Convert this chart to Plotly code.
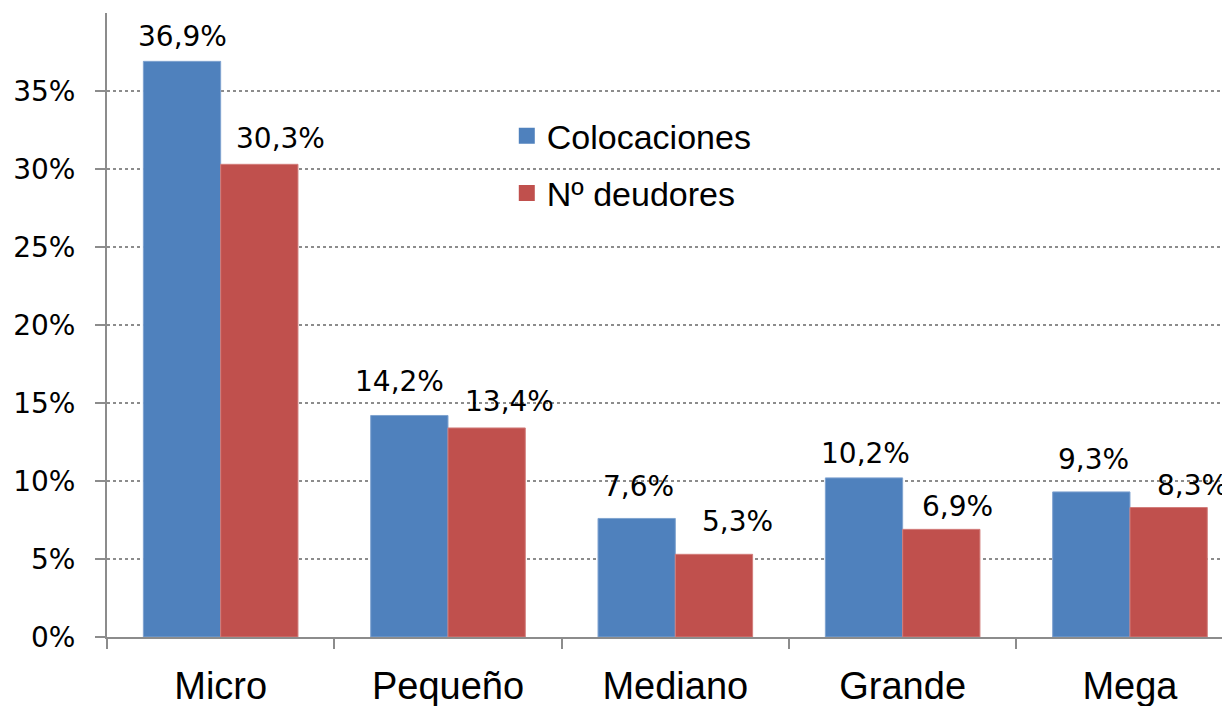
import plotly.graph_objects as go

categories = ["Micro", "Pequeño", "Mediano", "Grande", "Mega"]
colocaciones = [0.369, 0.142, 0.076, 0.102, 0.093]
deudores = [0.303, 0.134, 0.053, 0.069, 0.083]
series_names = ["Colocaciones", "Nº deudores"]
series_colors = ["#4F81BD", "#C0504D"]
y_ticks = [0, 0.05, 0.10, 0.15, 0.20, 0.25, 0.30, 0.35]
y_tick_labels = ["0%", "5%", "10%", "15%", "20%", "25%", "30%", "35%"]

# label placement nudges (pixels), as in the reference
nudge_x = [[0, -10, 2, 1, 2], [21, 23, 24, 16, 24]]
nudge_gap = [[14, 23, 21, 14, 22], [15, 16, 22, 12, 12]]

BARGAP = 0.32
bar_w = (1 - BARGAP) / 2
offsets = [-bar_w / 2, bar_w / 2]

def lbl(v):
    return f"{v*100:.1f}%".replace(".", ",")

fig = go.Figure()
edges = ["#7FA3D0", "#D27D7B"]
all_series = [colocaciones, deudores]
for s, (vals, name, col, edge) in enumerate(zip(all_series, series_names, series_colors, edges)):
    fig.add_trace(go.Bar(
        x=categories, y=vals, name=name,
        marker=dict(color=col, line=dict(color=edge, width=1)),
        showlegend=False, hoverinfo="x+y",
    ))
    for i, v in enumerate(vals):
        fig.add_annotation(
            x=i + offsets[s], y=v, xref="x", yref="y",
            text=lbl(v), showarrow=False,
            xanchor="center", yanchor="bottom",
            xshift=nudge_x[s][i], yshift=nudge_gap[s][i] - 8,
            font=dict(family="DejaVu Sans", size=28, color="#000000"),
        )

# legend entries (square markers like the reference)
for name, col in zip(series_names, series_colors):
    fig.add_trace(go.Scatter(
        x=[None], y=[None], mode="markers", name=name,
        marker=dict(symbol="square", size=19, color=col),
        legendgroup=name, showlegend=True,
    ))

fig.update_layout(
    width=1222, height=698,
    margin=dict(l=99, r=0, t=5, b=69, autoexpand=False),
    paper_bgcolor="white", plot_bgcolor="white",
    barmode="group", bargap=BARGAP, bargroupgap=0,
    showlegend=True,
    legend=dict(
        x=0.356, y=0.849, xanchor="left", yanchor="top",
        font=dict(family="Liberation Sans", size=34, color="#000000"),
        bgcolor="rgba(255,255,255,0)", tracegroupgap=10,
        itemwidth=30,
    ),
    xaxis=dict(
        range=[-0.5, 4.44], automargin=False,
        showline=True, linecolor="#8C8C8C", linewidth=2,
        ticks="outside", ticklen=10, tickcolor="#8C8C8C", tickwidth=2,
        tickson="boundaries", showgrid=False,
        tickfont=dict(family="Liberation Sans", size=38, color="#000000"),
        ticklabelstandoff=14,
    ),
    yaxis=dict(
        range=[0, 0.40], automargin=False,
        tickvals=y_ticks, ticktext=y_tick_labels,
        showline=True, linecolor="#8C8C8C", linewidth=2,
        ticks="outside", ticklen=10, tickcolor="#8C8C8C", tickwidth=2,
        showgrid=True, gridcolor="#8C8C8C", gridwidth=2, griddash="dot",
        zeroline=False,
        tickfont=dict(family="DejaVu Sans", size=28, color="#000000"),
        ticklabelstandoff=14,
    ),
)

fig.write_html("out.html")
